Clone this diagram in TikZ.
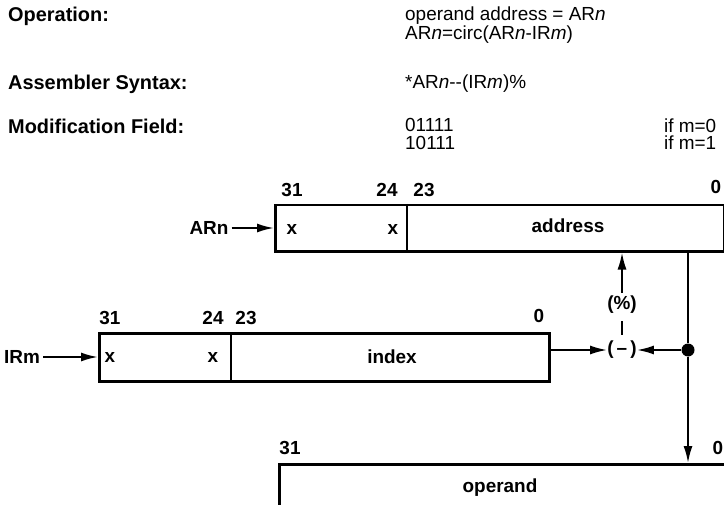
\documentclass[tikz,border=0pt]{standalone}
\usepackage{fontspec}
\setmainfont{Liberation Sans}
\usetikzlibrary{arrows.meta}
\begin{document}
\begin{tikzpicture}[x=1bp,y=-1bp,
  lbl/.style={font=\fontsize{20}{22}\selectfont\bfseries, anchor=west, inner sep=0pt},
  val/.style={font=\fontsize{19}{17.5}\selectfont, anchor=west, align=left, inner sep=0pt},
  bit/.style={font=\fontsize{19}{20}\selectfont\bfseries, inner sep=0pt},
  reg/.style={draw, line width=2.5bp, inner sep=0pt, anchor=north west},
  divline/.style={line width=2.5bp},
  conn/.style={line width=2bp},
  tip/.style={-{Latex[length=17bp,width=9bp]}}
]
\useasboundingbox (0,0) rectangle (724,505);
\clip (0,0) rectangle (724,505);

% header text
\node[lbl] (op) at (8,16) {Operation:};
\node[lbl] (asm) at (8,84) {Assembler Syntax:};
\node[lbl] (mod) at (8,126) {Modification Field:};
\node[val] (v1) at (405,25) {operand address = AR\textit{n}\\AR\textit{n}=circ(AR\textit{n}-IR\textit{m})};
\node[val] (v3) at (405,84) {*AR\textit{n}-{}-(IR\textit{m})\%};
\node[val] (v4) at (405,134) {01111\\10111};
\node[val] (v6) at (664,134) {if m=0\\if m=1};

% ARn register
\node[reg, minimum width=449bp, minimum height=46bp] (arn) at (274,204) {};
\draw[divline] (407,204) -- (407,250);
\node[bit] (a31) at (292,190) {31};
\node[bit] (a24) at (387,190) {24};
\node[bit] (a23) at (424,190) {23};
\node[bit] (a0) at (716,187) {0};
\node[bit] (ax1) at (292,229) {x};
\node[bit] (ax2) at (393,229) {x};
\node[bit] (addr) at (568,226) {address};
\node[bit] (arnlbl) at (209,228) {ARn};
\draw[conn,tip] (arnlbl.east) ++(3,0) -- (arn.west |- arnlbl);

% IRm register
\node[reg, minimum width=450bp, minimum height=48bp] (irm) at (98,332) {};
\draw[divline] (231,332) -- (231,380);
\node[bit] (i31) at (110,318) {31};
\node[bit] (i24) at (213,318) {24};
\node[bit] (i23) at (246,318) {23};
\node[bit] (i0) at (539,316) {0};
\node[bit] (ix1) at (110,357) {x};
\node[bit] (ix2) at (213,357) {x};
\node[bit] (idx) at (392,357) {index};
\node[bit] (irmlbl) at (22,357) {IRm};
\draw[conn,tip] (irmlbl.east) ++(3,0) -- (irm.west |- irmlbl);

% operand register (partly outside the picture)
\node[reg, minimum width=470bp, minimum height=70bp] (opd) at (278,463) {};
\node[bit] (o31) at (290,448) {31};
\node[bit] (o0) at (718,448) {0};
\node[bit] (opdtxt) at (500,488) {operand};

% arithmetic
\node[bit] (minus) at (622,350) {(\,\textendash\,)};
\node[bit, inner sep=3pt] (pct) at (622,305) {(\%)};
\draw[conn, shorten >=6bp, shorten <=4bp] (pct) -- (minus);
\draw[conn,tip] (pct.north) -- (pct.north |- arn.south);
\node[circle, fill, inner sep=0pt, minimum size=13bp] (dot) at (688,350) {};
\draw[conn] (arn.south -| dot) -- (dot);
\draw[conn,tip] (dot) -- (dot |- opd.north);
\draw[conn,tip] (dot) -- (minus);
\draw[conn,tip] (irm.east |- minus) -- (minus);
\end{tikzpicture}
\end{document}
